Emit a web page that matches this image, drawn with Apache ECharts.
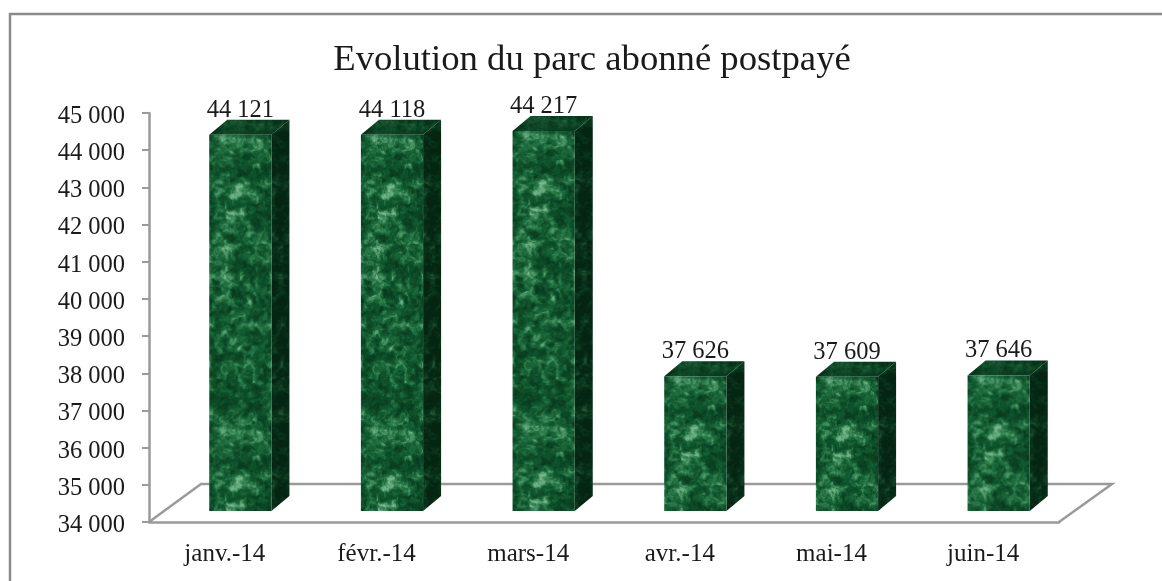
<!DOCTYPE html>
<html><head><meta charset="utf-8">
<script src="https://cdn.jsdelivr.net/npm/echarts@6/dist/echarts.min.js"></script>
<style>html,body{margin:0;padding:0;background:#fff}#c{width:1162px;height:581px}</style>
</head><body><div id="c"></div>
<script>
const categories = ['janv.-14','févr.-14','mars-14','avr.-14','mai-14','juin-14'];
const values = [44121,44118,44217,37626,37609,37646];
const titleText = 'Evolution du parc abonné postpayé';
const yMin = 34000, yMax = 45000, yStep = 1000;

const FONT = '"Liberation Serif", serif';
const fmt = v => String(v).replace(/\B(?=(\d{3})+$)/g, ' ');

// deterministic marble texture (hash noise, no randomness)
function hash(x, y){ const s = Math.sin(x*127.1 + y*311.7)*43758.5453; return s - Math.floor(s); }
function vnoise(x, y, px, py){
  const xi=Math.floor(x), yi=Math.floor(y), f=x-xi, g=y-yi;
  const u=f*f*(3-2*f), v=g*g*(3-2*g);
  const w=(a,b)=>hash(((a%px)+px)%px, ((b%py)+py)%py);
  return (w(xi,yi)*(1-u)+w(xi+1,yi)*u)*(1-v)+(w(xi,yi+1)*(1-u)+w(xi+1,yi+1)*u)*v;
}
function fbm(x,y,w,h,fx,fy,oct){
  let n=0,a=.5,t=0;
  for(let o=0;o<oct;o++){ n+=a*vnoise(x/w*fx,y/h*fy,fx,fy); t+=a; a*=.7; fx*=2; fy*=2; }
  return n/t;
}
function blob(x,y,cx,cy,rx,ry,rot,amp){
  const c=Math.cos(rot),s=Math.sin(rot),dx=x-cx,dy=y-cy;
  const a=(dx*c+dy*s)/rx,b=(-dx*s+dy*c)/ry;
  return amp*Math.exp(-(a*a+b*b));
}
const ramp=[[0,[8,60,30]],[.35,[15,84,44]],[.6,[33,110,64]],[.82,[72,148,100]],[1,[120,182,142]]];
function colour(t){
  t=Math.max(0,Math.min(1,t));
  for(let i=1;i<ramp.length;i++) if(t<=ramp[i][0]){
    const k=(t-ramp[i-1][0])/(ramp[i][0]-ramp[i-1][0]),a=ramp[i-1][1],b=ramp[i][1];
    return [a[0]+(b[0]-a[0])*k,a[1]+(b[1]-a[1])*k,a[2]+(b[2]-a[2])*k];
  }
  return ramp[ramp.length-1][1];
}
function makeTexture(w,h,blobs,gain,offset,mul){
  const c=document.createElement('canvas'); c.width=w; c.height=h;
  const ctx=c.getContext('2d'), img=ctx.createImageData(w,h);
  const fx=Math.max(2,Math.round(w/8)), fy=Math.round(h/8);
  for(let y=0;y<h;y++)for(let x=0;x<w;x++){
    const wx=(fbm(x+13,y,w,h,fx,fy,2)-.5)*7, wy=(fbm(x,y+29,w,h,fx,fy,2)-.5)*7;
    let n=fbm((x+wx+w)%w,(y+wy+h)%h,w,h,fx,fy,4);
    let l=(n-.5)*gain+offset;
    for(const b of blobs) l+=blob(x,y,b[0],b[1],b[2],b[3],b[4],b[5]);
    const col=colour(l), i=(y*w+x)*4;
    img.data[i]=col[0]*mul; img.data[i+1]=col[1]*mul; img.data[i+2]=col[2]*mul; img.data[i+3]=255;
  }
  ctx.putImageData(img,0,0); return c;
}
const faceBlobs=[[28,55,5,16,0.55,.3],[20,80,14,9,0.3,.14],[10,115,14,28,0,.15],[8,10,8,22,0,.16],[14,140,22,16,.4,.13],
                 [38,106,9,8,0,-.2],[45,150,12,14,.6,-.14],[56,262,6,22,0,.16],[28,200,20,24,0,.05],[46,30,14,14,0,-.04]];
const sideBlobs=[[6,92,5,14,0,.28],[8,250,6,26,0,.25],[8,170,6,30,0,-.1]];
const faceTex = makeTexture(62,292,faceBlobs,1.7,.42,1);
const sideTex = makeTexture(18,292,sideBlobs,2.0,.2,.62);
const topTex  = makeTexture(80,16,[],1.4,.26,.8);

const chart = echarts.init(document.getElementById('c'),null,{renderer:'canvas'});
const G = {left:149,right:103,top:113,bottom:59};
const DX=18, DY=15, BASE_SHIFT=11, FW=0.41, OFF=15.5;
const GRAY='#9a9a9a';
chart.setOption({
  animation:false,
  backgroundColor:'#fff',
  title:{text:titleText,left:587,top:37,textAlign:'center',textStyle:{fontFamily:FONT,fontSize:36.7,fontWeight:'normal',color:'#1a1a1a'}},
  grid:G,
  xAxis:{type:'category',data:categories,
    axisLine:{lineStyle:{color:GRAY,width:2.5}},
    axisTick:{length:7,lineStyle:{color:GRAY,width:2}},
    axisLabel:{fontFamily:FONT,fontSize:25,color:'#1a1a1a',margin:20}},
  yAxis:{type:'value',min:yMin,max:yMax,interval:yStep,
    splitLine:{show:false},
    axisLine:{show:true,lineStyle:{color:GRAY,width:2.5}},
    axisTick:{show:true,length:7,lineStyle:{color:GRAY,width:2}},
    axisLabel:{fontFamily:FONT,fontSize:24.5,color:'#1a1a1a',margin:24,verticalAlign:'top',lineHeight:7,formatter:fmt}},
  graphic:{elements:[
    {type:'polyline',z:-10,silent:true,shape:{points:[[10,581],[10,14],[1162,14]]},style:{fill:'none',stroke:'#8a8a8a',lineWidth:2.5}},
    {type:'polyline',z:-5,silent:true,shape:{points:[[149,522],[201,484],[1112,484],[1059,522]]},style:{fill:'none',stroke:GRAY,lineWidth:2.5}}
  ]},
  series:[{
    type:'custom',z:5,clip:false,
    data:values.map((v,i)=>[i,v]),
    encode:{x:0,y:1},
    renderItem(params,api){
      const p0=api.coord([api.value(0),yMin]), p1=api.coord([api.value(0),api.value(1)]);
      const bw=api.size([1,0])[0]*FW;
      const x=p0[0]+OFF-bw/2, top=p1[1]-BASE_SHIFT, h=p0[1]-p1[1];
      return {type:'group',x:x,y:top,children:[
        {type:'polygon',shape:{points:[[bw,0],[bw+DX,-DY],[bw+DX,h-DY],[bw,h]]},style:{fill:{image:sideTex,repeat:'repeat'}}},
        {type:'polygon',shape:{points:[[0,0],[DX,-DY],[bw+DX,-DY],[bw,0]]},style:{fill:{image:topTex,repeat:'repeat'}}},
        {type:'rect',shape:{x:0,y:0,width:bw,height:h},style:{fill:{image:faceTex,repeat:'repeat'}}},
        {type:'text',style:{x:bw/2,y:-12,text:fmt(api.value(1)),align:'center',verticalAlign:'bottom',font:'24.5px '+FONT,fill:'#1a1a1a'}}
      ]};
    }
  }]
});
</script></body></html>
